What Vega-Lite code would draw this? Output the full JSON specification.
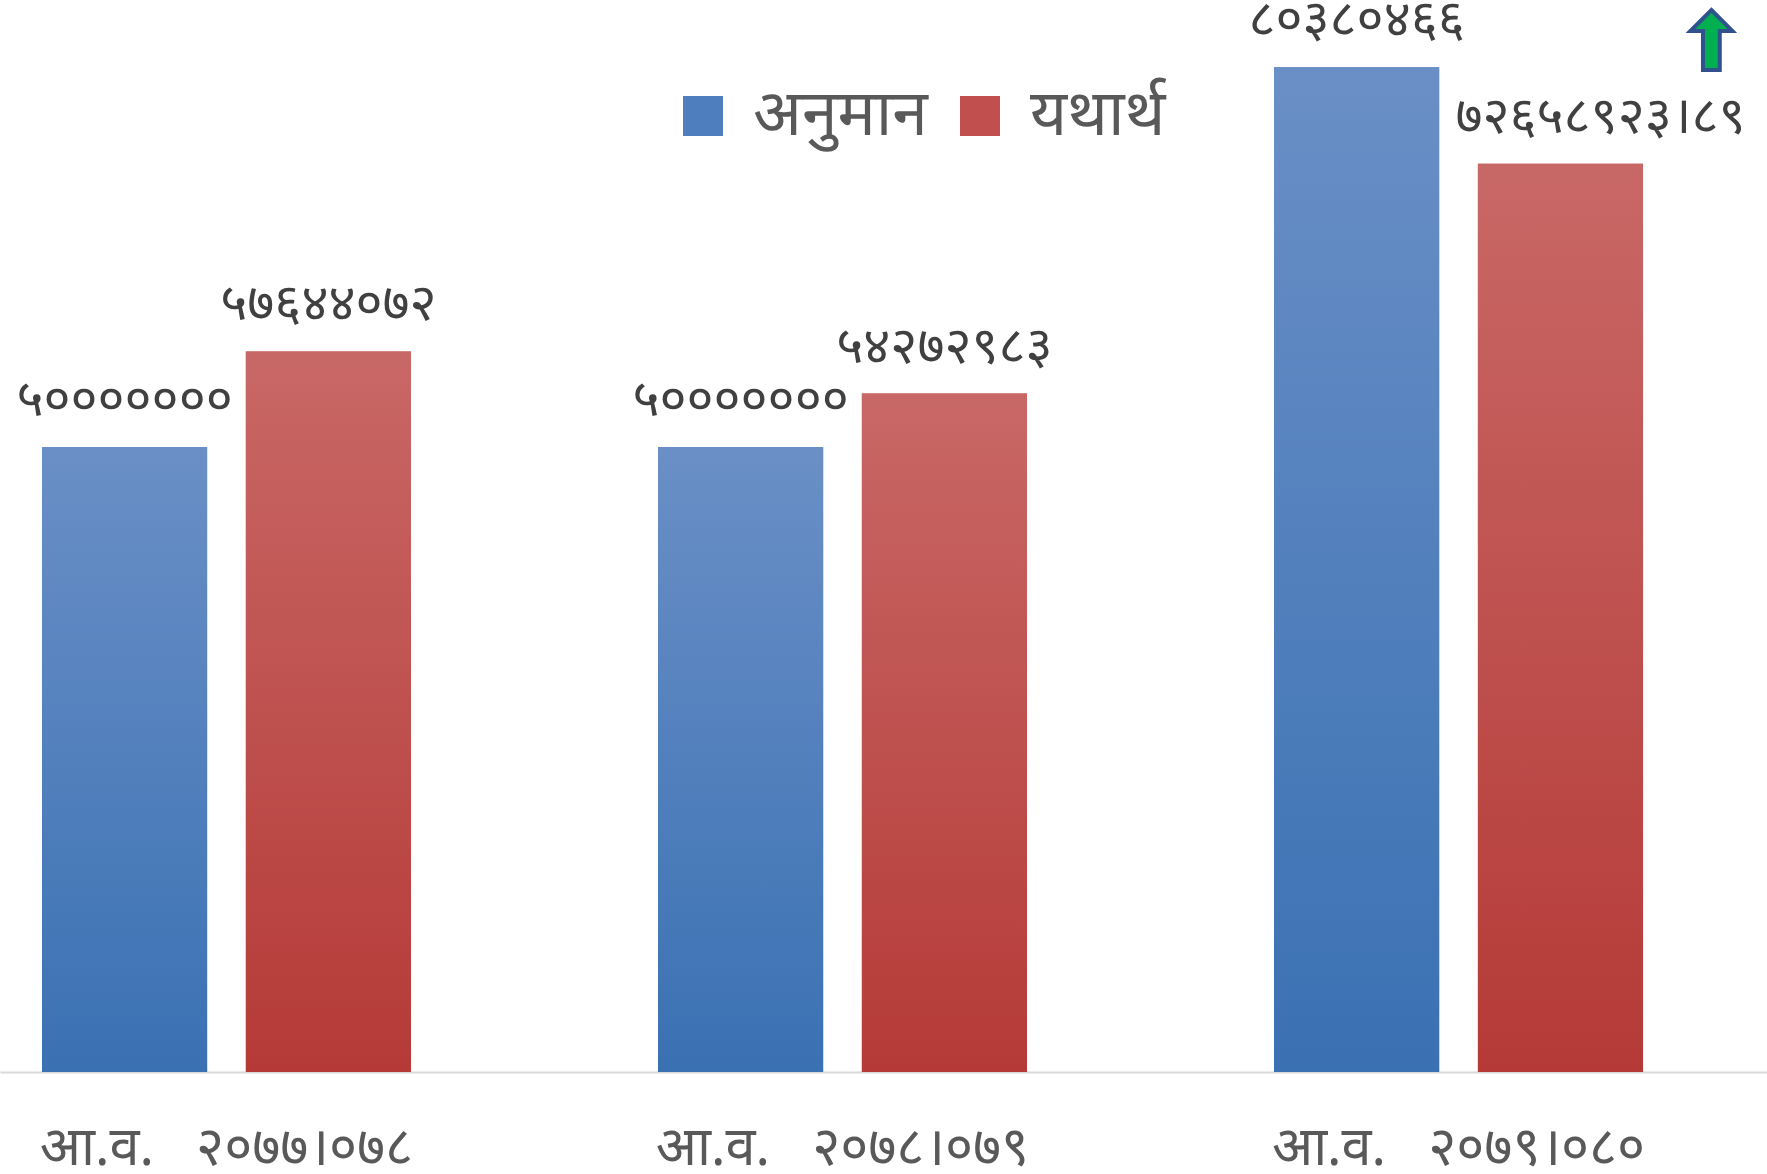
{
  "$schema": "https://vega.github.io/schema/vega-lite/v6.json",
  "width": 1767,
  "height": 1072,
  "autosize": {"type": "none"},
  "padding": {"top": 0, "left": 0, "right": 0, "bottom": 102},
  "background": "white",
  "config": {"view": {"stroke": null}, "font": "Noto Sans"},
  "data": {
    "values": [
      {"year": "आ.व.\u00a0\u00a0\u00a0२०७७।०७८", "series": "अनुमान", "value": 50000000, "label": "५०००००००"},
      {"year": "आ.व.\u00a0\u00a0\u00a0२०७७।०७८", "series": "यथार्थ", "value": 57644072, "label": "५७६४४०७२"},
      {"year": "आ.व.\u00a0\u00a0\u00a0२०७८।०७९", "series": "अनुमान", "value": 50000000, "label": "५०००००००"},
      {"year": "आ.व.\u00a0\u00a0\u00a0२०७८।०७९", "series": "यथार्थ", "value": 54272983, "label": "५४२७२९८३"},
      {"year": "आ.व.\u00a0\u00a0\u00a0२०७९।०८०", "series": "अनुमान", "value": 80380466, "label": "८०३८०४६६"},
      {"year": "आ.व.\u00a0\u00a0\u00a0२०७९।०८०", "series": "यथार्थ", "value": 72658923.89, "label": "७२६५८९२३।८९"}
    ]
  },
  "encoding": {
    "x": {
      "field": "year", "type": "nominal", "sort": null,
      "scale": {"paddingInner": 0.401, "paddingOuter": 0.1347, "align": 0.253},
      "axis": {"title": null, "labelAngle": 0, "ticks": false, "tickSize": 0, "domainColor": "#d9d9d9", "domainWidth": 2, "labelFontSize": 54, "labelColor": "#595959", "labelPadding": 76, "labelBaseline": "middle", "labelLimit": 0}
    },
    "xOffset": {"field": "series", "type": "nominal", "sort": ["अनुमान", "यथार्थ"], "scale": {"paddingInner": 0.19, "paddingOuter": 0}},
    "y": {"field": "value", "type": "quantitative", "scale": {"domain": [0, 85760000]}, "axis": null}
  },
  "layer": [
    {
      "mark": {"type": "bar"},
      "encoding": {
        "color": {
          "field": "series", "type": "nominal", "sort": ["अनुमान", "यथार्थ"],
          "scale": {"domain": ["अनुमान", "यथार्थ"], "range": ["#4F7EBE", "#C04F4D"]},
          "legend": {"title": null, "orient": "none", "legendX": 671, "legendY": 84, "padding": 0, "direction": "horizontal", "symbolType": "square", "symbolSize": 1600, "symbolOpacity": 1, "labelFontSize": 64, "labelColor": "#595959", "labelOffset": 18, "columnPadding": 20, "symbolStrokeWidth": 0, "labelLimit": 0}
        }
      }
    },
    {
      "transform": [{"filter": "datum.series === 'अनुमान'"}],
      "mark": {"type": "bar", "color": {"gradient": "linear", "x1": 0, "y1": 0, "x2": 0, "y2": 1, "stops": [{"offset": 0, "color": "#6A8FC6"}, {"offset": 1, "color": "#3A71B3"}]}}
    },
    {
      "transform": [{"filter": "datum.series === 'यथार्थ'"}],
      "mark": {"type": "bar", "color": {"gradient": "linear", "x1": 0, "y1": 0, "x2": 0, "y2": 1, "stops": [{"offset": 0, "color": "#C86866"}, {"offset": 1, "color": "#B53A37"}]}}
    },
    {
      "mark": {"type": "text", "dy": -47, "dx": {"expr": "datum.label === '७२६५८९२३।८९' ? 40 : 0"}, "fontSize": 52, "color": "#404040", "baseline": "middle"},
      "encoding": {"text": {"field": "label"}}
    },
    {
      "data": {"values": [{"year": "आ.व.\u00a0\u00a0\u00a0२०७९।०८०", "series": "यथार्थ", "value": 82560000}]},
      "mark": {"type": "point", "filled": true, "shape": "M5.03,-1 L5.73,-0.3 L5.31,-0.3 L5.31,1 L4.75,1 L4.75,-0.3 L4.33,-0.3 Z", "size": 3600, "fill": "#00B050", "stroke": "#2F528F", "strokeWidth": 4, "opacity": 1},
      "encoding": {}
    }
  ]
}
